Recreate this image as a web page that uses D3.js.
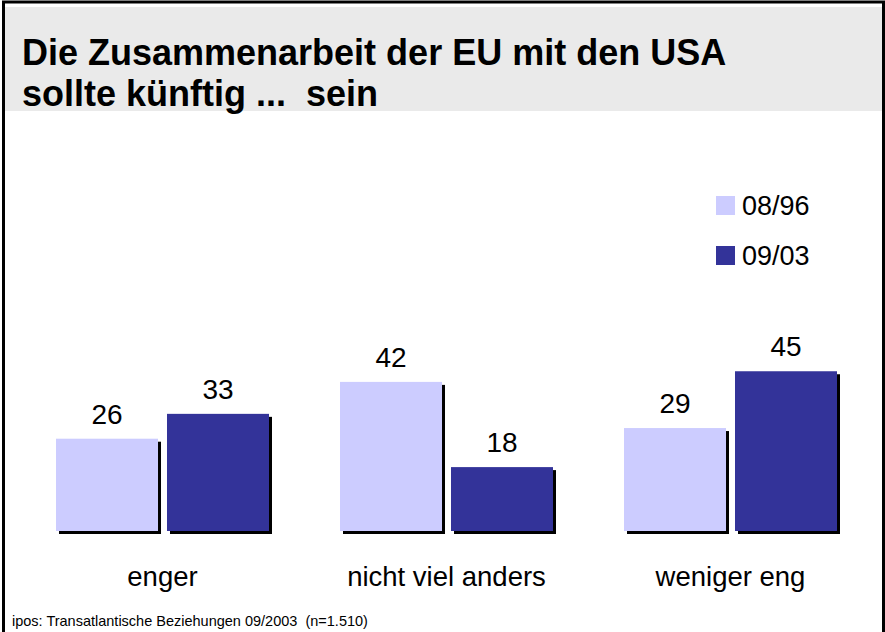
<!DOCTYPE html>
<html>
<head>
<meta charset="utf-8">
<script src="https://cdn.jsdelivr.net/npm/d3@7"></script>
<style>
  body { margin: 0; background: #fff; }
  svg { display: block; font-family: "Liberation Sans", Arial, sans-serif; }
  text { white-space: pre; }
</style>
</head>
<body>
<div id="chart"></div>
<script>
const categories = ["enger", "nicht viel anders", "weniger eng"];
const seriesNames = ["08/96", "09/03"];
const values0896 = [26, 42, 29];
const values0903 = [33, 18, 45];
const titleLines = ["Die Zusammenarbeit der EU mit den USA", "sollte künftig ...  sein"];
const footnote = "ipos: Transatlantische Beziehungen 09/2003  (n=1.510)";

const colors = ["#ccccff", "#333399"];
const w = 885, h = 632;
const baseY = 531;

const svg = d3.select("#chart")
    .append("svg")
    .attr("width", w)
    .attr("height", h);

// title band + frame
svg.append("rect")
    .attr("x", 5).attr("y", 7)
    .attr("width", w - 5).attr("height", 104)
    .attr("fill", "#eaeaea");

svg.append("path")
    .attr("d", "M3.5," + h + "V2H883.5V" + h)
    .attr("fill", "none")
    .attr("stroke", "#000")
    .attr("stroke-width", 3);

svg.selectAll(".title")
    .data(titleLines)
    .enter()
    .append("text")
    .attr("class", "title")
    .attr("x", 22)
    .attr("y", (d, i) => 65 + i * 41)
    .attr("font-size", 36)
    .attr("font-weight", "bold")
    .text(d => d);

const data = categories.map((c, i) => ({ cat: c, vals: [values0896[i], values0903[i]] }));

const x0 = d3.scaleBand()
    .domain(categories)
    .range([20.5, 872.5])
    .paddingInner(0.25)
    .paddingOuter(0.125);

const x1 = d3.scaleBand()
    .domain([0, 1])
    .range([0, x0.bandwidth()])
    .paddingInner(0.081);

const y = d3.scaleLinear()
    .domain([0, 50])
    .range([baseY, baseY - 50 * 3.55]);

const groups = svg.append("g")
    .selectAll("g")
    .data(data)
    .enter()
    .append("g")
    .attr("transform", d => "translate(" + x0(d.cat) + ",0)");

const bars = groups.selectAll(".bar")
    .data(d => d.vals.map((v, i) => ({ v: v, i: i })))
    .enter();

// shadow
bars.append("rect")
    .attr("x", d => x1(d.i) + 3)
    .attr("y", d => y(d.v) + 3)
    .attr("width", x1.bandwidth())
    .attr("height", d => y(0) - y(d.v))
    .attr("fill", "#000");

bars.append("rect")
    .attr("x", d => x1(d.i))
    .attr("y", d => y(d.v))
    .attr("width", x1.bandwidth())
    .attr("height", d => y(0) - y(d.v))
    .attr("fill", d => colors[d.i]);

bars.append("text")
    .attr("x", d => x1(d.i) + x1.bandwidth() / 2)
    .attr("y", d => y(d.v) - 15)
    .attr("text-anchor", "middle")
    .attr("font-size", 28)
    .text(d => d.v);

svg.selectAll(".cat")
    .data(categories)
    .enter()
    .append("text")
    .attr("class", "cat")
    .attr("x", d => x0(d) + x0.bandwidth() / 2)
    .attr("y", 586)
    .attr("text-anchor", "middle")
    .attr("font-size", 27.5)
    .text(d => d);

// legend
const legend = svg.append("g")
    .selectAll("g")
    .data(seriesNames)
    .enter()
    .append("g")
    .attr("transform", (d, i) => "translate(716," + (196 + i * 50) + ")");

legend.append("rect")
    .attr("width", 19)
    .attr("height", 19)
    .attr("fill", (d, i) => colors[i]);

legend.append("text")
    .attr("x", 26)
    .attr("y", 19)
    .attr("font-size", 27)
    .text(d => d);

svg.append("text")
    .attr("x", 12)
    .attr("y", 626)
    .attr("font-size", 14.5)
    .text(footnote);
</script>
</body>
</html>
